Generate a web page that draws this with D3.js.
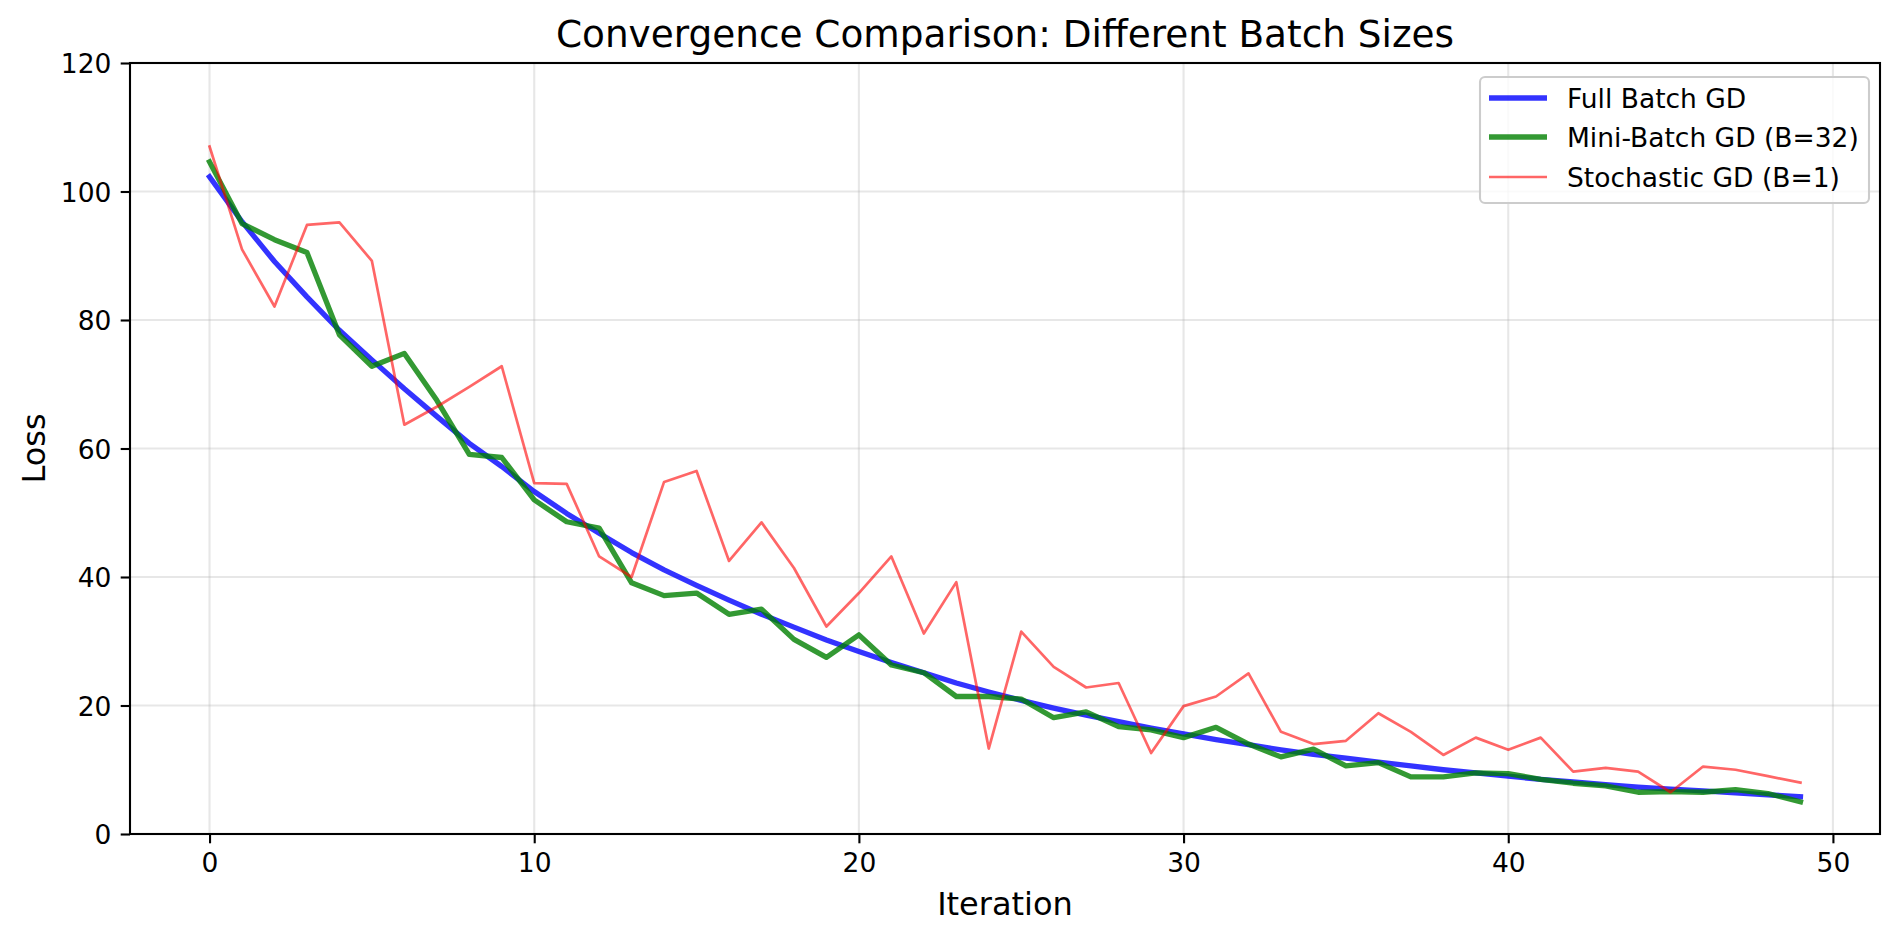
<!DOCTYPE html>
<html>
<head>
<meta charset="utf-8">
<script src="https://cdn.jsdelivr.net/npm/d3@7"></script>
<style>
  body { margin: 0; background: #ffffff; }
  svg { display: block; font-family: "DejaVu Sans", sans-serif; }
</style>
</head>
<body>
<div id="chartSection"></div>
<script>
// values
var iterations = d3.range(0, 50);

var fullBatch = [102.3, 95.3, 89.1, 83.6, 78.4, 73.8, 69.3, 65.0, 60.8, 57.2,
    53.3, 49.9, 46.8, 43.8, 41.1, 38.7, 36.4, 34.2, 32.2, 30.2,
    28.4, 26.7, 25.1, 23.5, 22.1, 20.8, 19.6, 18.5, 17.5, 16.5,
    15.6, 14.7, 13.9, 13.1, 12.4, 11.8, 11.2, 10.6, 10.0, 9.5,
    9.0, 8.5, 8.1, 7.7, 7.3, 7.0, 6.7, 6.4, 6.1, 5.8];

var miniBatch = [104.6, 95.0, 92.5, 90.5, 77.7, 72.8, 74.8, 67.5, 59.1, 58.6,
    52.0, 48.6, 47.6, 39.1, 37.1, 37.5, 34.2, 35.0, 30.3, 27.5,
    31.0, 26.3, 25.1, 21.4, 21.4, 21.0, 18.1, 19.0, 16.7, 16.2,
    15.0, 16.6, 14.0, 12.0, 13.2, 10.6, 11.1, 8.9, 8.9, 9.5,
    9.4, 8.5, 7.9, 7.5, 6.5, 6.6, 6.5, 6.9, 6.3, 5.0];

var stochastic = [107.0, 91.0, 82.1, 94.8, 95.2, 89.2, 63.7, 66.5, 69.6, 72.8,
    54.6, 54.5, 43.2, 40.0, 54.8, 56.5, 42.5, 48.5, 41.4, 32.3,
    37.5, 43.2, 31.2, 39.2, 13.3, 31.5, 26.0, 22.8, 23.5, 12.6,
    19.9, 21.4, 25.0, 15.9, 14.0, 14.5, 18.8, 15.9, 12.3, 15.0,
    13.1, 15.0, 9.7, 10.3, 9.7, 6.5, 10.5, 10.0, 9.0, 8.0];

var seriesNames = ["Full Batch GD", "Mini-Batch GD (B=32)", "Stochastic GD (B=1)"];
var xTicks = [0, 10, 20, 30, 40, 50];
var yTicks = [0, 20, 40, 60, 80, 100, 120];

var width = 1901;
var height = 940;
var plotLeft = 130, plotRight = 1880, plotTop = 63, plotBottom = 834;

var svg = d3.select("#chartSection").append("svg")
    .attr("width", width)
    .attr("height", height);

var xScale = d3.scaleLinear().domain([-2.45, 51.45]).range([plotLeft, plotRight]);
var yScale = d3.scaleLinear().domain([0, 120]).range([plotBottom, plotTop]);

// grid
var grid = svg.append("g");
grid.selectAll("line.gx").data(xTicks).enter().append("line")
    .attr("x1", d => xScale(d)).attr("x2", d => xScale(d))
    .attr("y1", plotTop).attr("y2", plotBottom)
    .attr("stroke", "#b0b0b0").attr("stroke-opacity", 0.3).attr("stroke-width", 2.1);
grid.selectAll("line.gy").data(yTicks).enter().append("line")
    .attr("y1", d => yScale(d)).attr("y2", d => yScale(d))
    .attr("x1", plotLeft).attr("x2", plotRight)
    .attr("stroke", "#b0b0b0").attr("stroke-opacity", 0.3).attr("stroke-width", 2.1);

svg.append("clipPath").attr("id", "plotClip").append("rect")
    .attr("x", plotLeft).attr("y", plotTop)
    .attr("width", plotRight - plotLeft).attr("height", plotBottom - plotTop);

var styles = [
    { data: fullBatch, color: "blue", alpha: 0.8, w: 5.3 },
    { data: miniBatch, color: "green", alpha: 0.8, w: 5.3 },
    { data: stochastic, color: "red", alpha: 0.6, w: 2.7 }
];

var line = d3.line()
    .x((d, i) => xScale(iterations[i]))
    .y(d => yScale(d));

var g = svg.append("g").attr("clip-path", "url(#plotClip)");
styles.forEach(function(s) {
    g.append("path")
        .attr("d", line(s.data))
        .attr("fill", "none")
        .attr("stroke", s.color)
        .attr("stroke-opacity", s.alpha)
        .attr("stroke-width", s.w)
        .attr("stroke-linejoin", "round")
        .attr("stroke-linecap", "square");
});

// axes
var xAxis = svg.append("g").attr("transform", "translate(0," + plotBottom + ")")
    .call(d3.axisBottom(xScale).tickValues(xTicks).tickSize(9.3).tickPadding(9.3));
var yAxis = svg.append("g").attr("transform", "translate(" + plotLeft + ",0)")
    .call(d3.axisLeft(yScale).tickValues(yTicks).tickSize(9.3).tickPadding(9.3));

[xAxis, yAxis].forEach(function(a) {
    a.select(".domain").remove();
    a.selectAll(".tick line").attr("stroke", "#000").attr("stroke-width", 2.1);
    a.selectAll(".tick text")
        .attr("fill", "#000")
        .style("font-family", "DejaVu Sans")
        .style("font-size", "26.5px");
});
xAxis.selectAll(".tick text").attr("dy", "0.75em");
yAxis.selectAll(".tick text").attr("dy", "0.36em");

// spines
svg.append("rect")
    .attr("x", plotLeft).attr("y", plotTop)
    .attr("width", plotRight - plotLeft).attr("height", plotBottom - plotTop)
    .attr("fill", "none").attr("stroke", "#000").attr("stroke-width", 2.1);

// title and labels
svg.append("text")
    .attr("x", (plotLeft + plotRight) / 2).attr("y", 47)
    .attr("text-anchor", "middle")
    .style("font-size", "37.4px")
    .text("Convergence Comparison: Different Batch Sizes");

svg.append("text")
    .attr("x", (plotLeft + plotRight) / 2).attr("y", 915)
    .attr("text-anchor", "middle")
    .style("font-size", "32px")
    .text("Iteration");

svg.append("text")
    .attr("transform", "translate(45," + (plotTop + plotBottom) / 2 + ") rotate(-90)")
    .attr("text-anchor", "middle")
    .style("font-size", "32px")
    .text("Loss");

// legend
var legend = svg.append("g");
legend.append("rect")
    .attr("x", 1480).attr("y", 77)
    .attr("width", 389).attr("height", 126)
    .attr("rx", 5).attr("ry", 5)
    .attr("fill", "#ffffff").attr("fill-opacity", 0.8)
    .attr("stroke", "#cccccc").attr("stroke-width", 2.1);

var legendY = [98, 137, 177];
styles.forEach(function(s, i) {
    legend.append("line")
        .attr("x1", 1489).attr("x2", 1547)
        .attr("y1", legendY[i]).attr("y2", legendY[i])
        .attr("stroke", s.color)
        .attr("stroke-opacity", s.alpha)
        .attr("stroke-width", s.w);
    legend.append("text")
        .attr("x", 1567).attr("y", legendY[i])
        .attr("dy", "0.36em")
        .style("font-size", "26.5px")
        .text(seriesNames[i]);
});
</script>
</body>
</html>
